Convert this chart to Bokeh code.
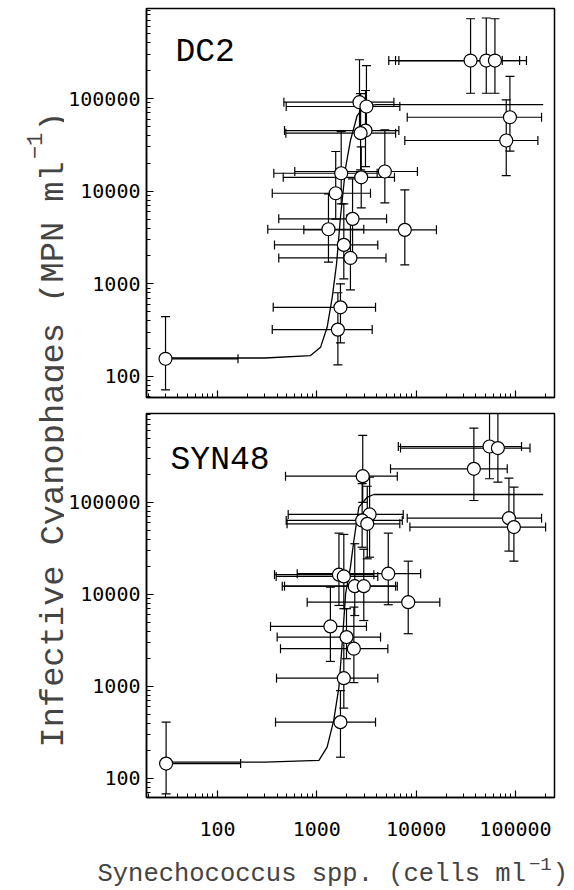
import math
from bokeh.plotting import figure
from bokeh.models import (ColumnDataSource, Label, Range1d, FixedTicker,
                          NumeralTickFormatter)
from bokeh.layouts import column, row
from bokeh.embed import file_html
from bokeh.resources import INLINE

# ---------------- data: DC2 panel ----------------
dc2_x = [30, 35300, 50800, 62100, 2690, 3160, 3090, 2760, 1760, 2800, 4840,
         1550, 1310, 7690, 2290, 2180, 1870, 1730, 1630, 87900, 80700]
dc2_y = [155, 257000, 257000, 257000, 91200, 82000, 45100, 42300, 15600, 14100, 16300,
         9490, 3880, 3820, 5020, 1900, 2630, 557, 320, 62800, 35200]
dc2_xlo = [30, 5300, 6200, 6700, 466, 492, 473, 488, 369, 459, 600,
           356, 321, 740, 414, 414, 375, 364, 356, 8130, 7690]
dc2_xhi = [161, 73600, 110000, 129000, 5970, 6850, 6700, 6210, 4050, 6050, 10300,
           3470, 2970, 16000, 5040, 4970, 4110, 3900, 3610, 183000, 168000]
dc2_ylo = [71.5, 114000, 114000, 114000, 40000, 45000, 18400, 17000, 7300, 6600, 7480,
           5000, 1710, 1600, 2000, 860, 1130, 230, 133, 27000, 14700]
dc2_yhi = [442, 726000, 740000, 726000, 262000, 227000, 122000, 113000, 44000, 30000, 45900,
           26800, 9350, 10300, 13600, 5500, 7300, 1000, 800, 173000, 96800]
dc2_fit_x = [30, 300, 865, 1090, 1270, 1430, 1580, 1730, 1950, 2180, 2550, 2870,
             3300, 4000, 190000]
dc2_fit_y = [158, 158, 168, 206, 339, 714, 1640, 5220, 18100, 35200, 65500, 77300,
             84000, 86000, 86100]

# ---------------- data: SYN48 panel ----------------
syn_x = [30.4, 54800, 66500, 38100, 85900, 96400, 2900, 3400, 2860, 3220, 1670,
         1870, 5240, 2410, 2970, 8320, 1370, 1990, 2360, 1870, 1730]
syn_y = [145, 406000, 390000, 232000, 67500, 54000, 193000, 74100, 63700, 58600, 16400,
         15700, 16800, 12300, 12300, 8240, 4490, 3440, 2570, 1230, 409]
syn_xlo = [30.4, 6610, 6960, 5520, 8130, 8650, 484, 515, 492, 502, 375,
           390, 635, 449, 473, 800, 342, 399, 431, 393, 384]
syn_xhi = [171, 115000, 140000, 82600, 183000, 201000, 6460, 7410, 7250, 6850, 3750,
           4110, 11100, 6200, 6460, 17300, 3160, 4380, 5190, 4110, 3900]
syn_ylo = [68, 181000, 166000, 105000, 29600, 23000, 100000, 25400, 32600, 24400, 7590,
           7000, 7730, 5900, 5200, 3740, 1870, 2000, 1100, 581, 170]
syn_yhi = [409, 1200000, 1200000, 643000, 184000, 147000, 535000, 188000, 160000, 150000, 46400,
           44900, 46400, 35600, 31000, 23000, 12000, 7000, 7280, 3440, 900]
syn_fit_x = [30, 300, 1050, 1270, 1480, 1670, 1800, 1950, 2180, 2360, 2650, 3220,
             3750, 190000]
syn_fit_y = [150, 150, 157, 219, 427, 984, 2910, 10200, 19800, 38600, 88900, 114000,
             122000, 122000]

# ---------------- ticks ----------------
major_ticks = [100, 1000, 10000, 100000]
minor_ticks = [m * 10 ** e for e in range(1, 7) for m in range(2, 10)]

TICK_FONT = "DejaVu Sans Mono"
TITLE_FONT = "Liberation Mono"

YW = 64
FIG_W = 510
X_RANGE = (19.3, 247000)


def make_panel(xs, ys, xlo, xhi, ylo, yhi, fx, fy, yr, height, top, bottom,
               show_xlabels, name, name_x, name_y):
    p = figure(width=FIG_W, height=height, x_axis_type="log", y_axis_type="log",
               x_range=Range1d(*X_RANGE), y_range=Range1d(*yr),
               toolbar_location=None, output_backend="svg",
               min_border_left=82, min_border_right=20,
               min_border_top=top, min_border_bottom=bottom)
    p.grid.visible = False
    p.outline_line_color = "black"
    p.outline_line_width = 1.5
    for ax in (p.xaxis[0], p.yaxis[0]):
        ax.ticker = FixedTicker(ticks=major_ticks, minor_ticks=minor_ticks)
        ax.formatter = NumeralTickFormatter(format="0")
        ax.major_tick_in = 7
        ax.major_tick_out = 0
        ax.minor_tick_in = 4
        ax.minor_tick_out = 0
        ax.axis_line_width = 1.5
        ax.major_tick_line_width = 1.2
        ax.minor_tick_line_width = 1
        ax.major_label_text_font = TICK_FONT
        ax.major_label_text_font_size = "20px"
        ax.major_label_text_color = "black"
    p.yaxis.major_label_standoff = 6
    if show_xlabels:
        p.xaxis.major_label_standoff = 24
    else:
        p.xaxis.major_label_overrides = {t: "" for t in major_ticks}
        p.xaxis.major_label_standoff = 0

    src = ColumnDataSource(dict(x=xs, y=ys, xlo=xlo, xhi=xhi, ylo=ylo, yhi=yhi))
    # error bars
    p.segment(x0="xlo", y0="y", x1="xhi", y1="y", source=src, line_color="black", line_width=1.2)
    p.segment(x0="x", y0="ylo", x1="x", y1="yhi", source=src, line_color="black", line_width=1.2)
    # caps
    p.scatter(x="x", y="ylo", source=src, marker="dash", size=9, line_color="black", line_width=1.2)
    p.scatter(x="x", y="yhi", source=src, marker="dash", size=9, line_color="black", line_width=1.2)
    p.scatter(x="xlo", y="y", source=src, marker="dash", size=9, angle=math.pi / 2,
              line_color="black", line_width=1.2)
    p.scatter(x="xhi", y="y", source=src, marker="dash", size=9, angle=math.pi / 2,
              line_color="black", line_width=1.2)
    # fitted curve
    p.line(fx, fy, line_color="black", line_width=1.3)
    # points
    p.scatter(x="x", y="y", source=src, marker="circle", size=13, fill_color="white",
              line_color="black", line_width=1.2)

    p.add_layout(Label(x=name_x, y=name_y, text=name, text_font=TITLE_FONT,
                       text_font_size="33px", text_color="black",
                       text_baseline="alphabetic", text_align="left"))
    return p


H1 = 405
H2 = 440
top = make_panel(dc2_x, dc2_y, dc2_xlo, dc2_xhi, dc2_ylo, dc2_yhi, dc2_fit_x, dc2_fit_y,
                 (59.2, 937000), H1, 8, 8, False, "DC2", 37.8, 314000)
bot = make_panel(syn_x, syn_y, syn_xlo, syn_xhi, syn_ylo, syn_yhi, syn_fit_x, syn_fit_y,
                 (62, 927000), H2, 8, 48, True, "SYN48", 33.7, 286000)

# ---------------- y title ----------------
YH = H1 + H2
yt = figure(width=YW, height=YH, x_range=Range1d(0, YW), y_range=Range1d(0, YH),
            x_axis_type=None, y_axis_type=None, toolbar_location=None,
            output_backend="svg", min_border=0, outline_line_color=None)
yt.grid.visible = False
F = 33.7
pitch = 0.6 * F
main_y = "Infective Cyanophages (MPN ml"
y0 = 98
yt.add_layout(Label(x=53, y=y0, text=main_y, angle=math.pi / 2, text_font=TITLE_FONT,
                    text_font_size=f"{F}px", text_baseline="alphabetic", text_align="left"))
ys_sup = y0 + len(main_y) * pitch + 2
yt.add_layout(Label(x=34, y=ys_sup, text="\u22121", angle=math.pi / 2, text_font=TITLE_FONT,
                    text_font_size="22px", text_baseline="alphabetic", text_align="left"))
yt.add_layout(Label(x=53, y=ys_sup + 2 * 0.6 * 22 + 1, text=")", angle=math.pi / 2,
                    text_font=TITLE_FONT, text_font_size=f"{F}px",
                    text_baseline="alphabetic", text_align="left"))

# ---------------- x title ----------------
XW = 574
XH = 42
xt = figure(width=XW, height=XH, x_range=Range1d(0, XW), y_range=Range1d(0, XH),
            x_axis_type=None, y_axis_type=None, toolbar_location=None,
            output_backend="svg", min_border=0, outline_line_color=None)
xt.grid.visible = False
FX = 25.5
main_x = "Synechococcus spp. (cells ml"
x0 = 97
xt.add_layout(Label(x=x0, y=13, text=main_x, text_font=TITLE_FONT, text_font_size=f"{FX}px",
                    text_baseline="alphabetic", text_align="left"))
xs_sup = x0 + len(main_x) * 0.6 * FX + 3
xt.add_layout(Label(x=xs_sup, y=24, text="\u22121", text_font=TITLE_FONT,
                    text_font_size="19px", text_baseline="alphabetic", text_align="left"))
xt.add_layout(Label(x=xs_sup + 2 * 0.6 * 19 + 1, y=13, text=")", text_font=TITLE_FONT,
                    text_font_size=f"{FX}px", text_baseline="alphabetic", text_align="left"))

layout = column(row(yt, column(top, bot, spacing=0), spacing=0), xt, spacing=0)

open("out.html", "w").write(file_html(layout, INLINE))
